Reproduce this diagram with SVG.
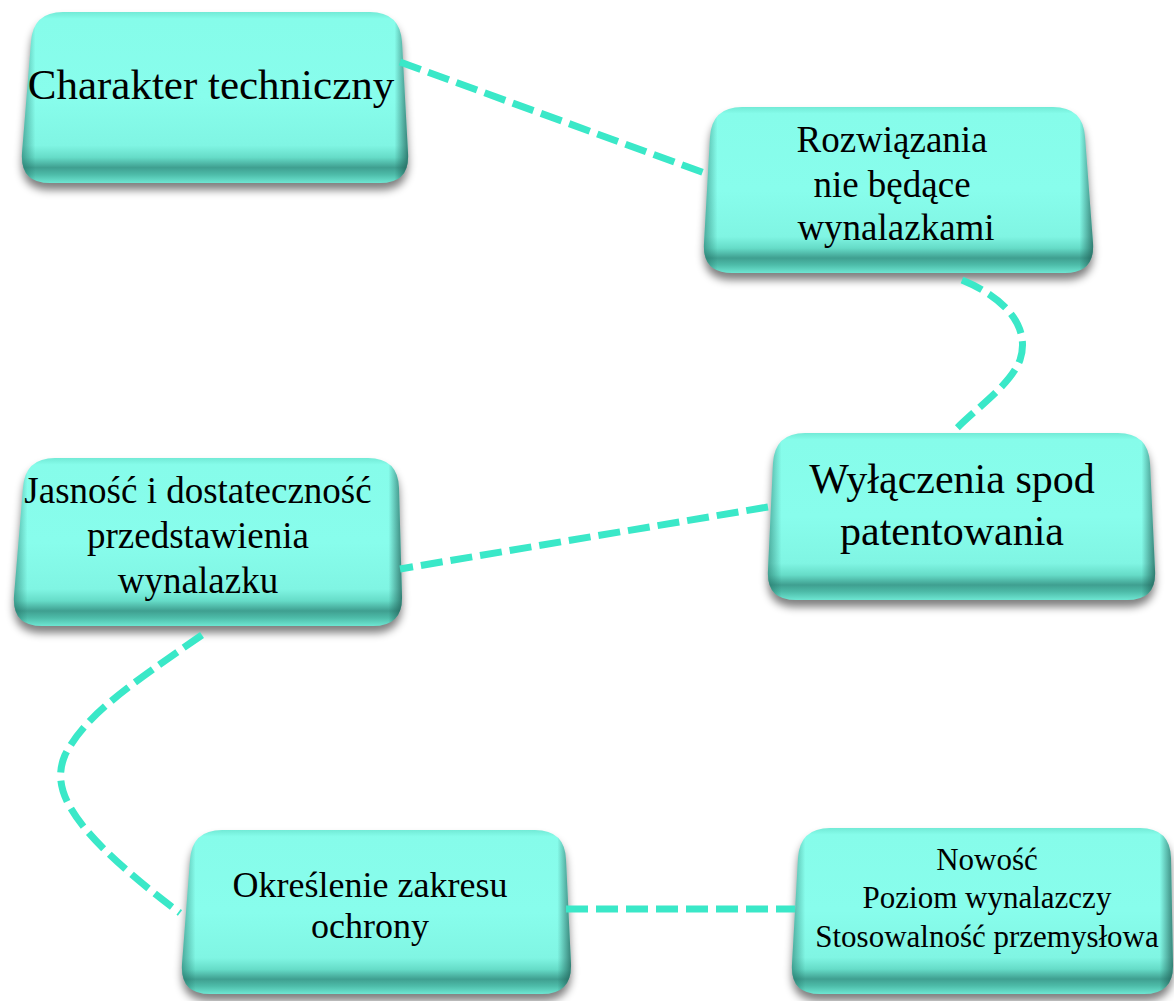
<svg xmlns="http://www.w3.org/2000/svg" xmlns:xlink="http://www.w3.org/1999/xlink" width="1174" height="1001" viewBox="0 0 1174 1001">
<defs>
<style>
.shadow{fill:#000;opacity:.5;filter:url(#blur)}
.face{fill:url(#gFace)}
.side{fill:url(#gSide)}
.lbl{font-family:"Liberation Serif","Times New Roman",serif;fill:#000;text-anchor:middle}
.con{fill:none;stroke:#3AE8C8;stroke-width:7;stroke-dasharray:22 8;stroke-linecap:butt}
</style>
<filter id="blur" x="-10%" y="-10%" width="120%" height="130%"><feGaussianBlur stdDeviation="4"/></filter>
<linearGradient id="gFace" x1="0" y1="0" x2="0" y2="1">
<stop offset="0" stop-color="#72EAD6"/>
<stop offset="0.04" stop-color="#86FCEA"/>
<stop offset="0.5" stop-color="#88FDEC"/>
<stop offset="0.78" stop-color="#80F5E3"/>
<stop offset="0.85" stop-color="#66DCC8"/>
<stop offset="0.91" stop-color="#3F9F90"/>
<stop offset="0.95" stop-color="#4DBBA8"/>
<stop offset="1" stop-color="#6EE6D2"/>
</linearGradient>
<linearGradient id="gSide" x1="0" y1="0" x2="1" y2="0">
<stop offset="0" stop-color="#1E6E62" stop-opacity=".55"/>
<stop offset="0.035" stop-color="#1E6E62" stop-opacity="0"/>
<stop offset="0.965" stop-color="#1E5E55" stop-opacity="0"/>
<stop offset="1" stop-color="#1E5E55" stop-opacity=".75"/>
</linearGradient>
<path id="s1" d="M63,12 H370 Q400,12 402,42 L408,153 Q410,183 380,183 H50 Q20,183 22,153 L31,42 Q33,12 63,12 Z"/>
<path id="s2" d="M742,107 H1053 Q1083,107 1085,137 L1093,243 Q1095,273 1065,273 H732 Q702,273 704,243 L710,137 Q712,107 742,107 Z"/>
<path id="s3" d="M805,433 H1118 Q1148,433 1150,463 L1155,570 Q1157,600 1127,600 H796 Q766,600 768,570 L773,463 Q775,433 805,433 Z"/>
<path id="s4" d="M55,458 H368 Q398,458 399,488 L402,596 Q403,626 373,626 H42 Q12,626 14,596 L23,488 Q25,458 55,458 Z"/>
<path id="s5" d="M222,830 H535 Q565,830 566,860 L571,964 Q572,994 542,994 H210 Q180,994 182,964 L190,860 Q192,830 222,830 Z"/>
<path id="s6" d="M830,828 H1140 Q1170,828 1171,858 L1173,964 Q1174,994 1144,994 H820 Q790,994 792,964 L798,858 Q800,828 830,828 Z"/>
</defs>
<rect width="1174" height="1001" fill="#fff"/>

<g id="node1">
<use href="#s1" class="shadow" transform="translate(0,7)"/>
<use href="#s1" class="face"/>
<use href="#s1" class="side"/>
<text class="lbl" x="211" y="99" font-size="43">Charakter techniczny</text>
</g>

<g id="node2">
<use href="#s2" class="shadow" transform="translate(0,7)"/>
<use href="#s2" class="face"/>
<use href="#s2" class="side"/>
<text class="lbl" font-size="37"><tspan x="892" y="152">Rozwiązania</tspan><tspan x="892" y="197">nie będące</tspan><tspan x="896" y="240">wynalazkami</tspan></text>
</g>

<g id="node3">
<use href="#s3" class="shadow" transform="translate(0,7)"/>
<use href="#s3" class="face"/>
<use href="#s3" class="side"/>
<text class="lbl" font-size="42"><tspan x="952" y="493">Wyłączenia spod</tspan><tspan x="952" y="545">patentowania</tspan></text>
</g>

<g id="node4">
<use href="#s4" class="shadow" transform="translate(0,7)"/>
<use href="#s4" class="face"/>
<use href="#s4" class="side"/>
<text class="lbl" font-size="37"><tspan x="198" y="503">Jasność i dostateczność</tspan><tspan x="198" y="548">przedstawienia</tspan><tspan x="198" y="593">wynalazku</tspan></text>
</g>

<g id="node5">
<use href="#s5" class="shadow" transform="translate(0,7)"/>
<use href="#s5" class="face"/>
<use href="#s5" class="side"/>
<text class="lbl" font-size="36"><tspan x="370" y="897">Określenie zakresu</tspan><tspan x="370" y="938">ochrony</tspan></text>
</g>

<g id="node6">
<use href="#s6" class="shadow" transform="translate(0,7)"/>
<use href="#s6" class="face"/>
<use href="#s6" class="side"/>
<text class="lbl" font-size="31"><tspan x="987" y="870">Nowość</tspan><tspan x="987" y="908">Poziom wynalazczy</tspan><tspan x="987" y="947">Stosowalność przemysłowa</tspan></text>
</g>

<g id="connectors">
<path class="con" d="M400,62 L710,175"/>
<path class="con" d="M962,280 C1010,300 1030,330 1020,360 C1010,385 980,405 955,430"/>
<path class="con" d="M768,507 L400,569"/>
<path class="con" d="M202,635 C130,685 85,715 65,755 C50,790 70,830 180,913"/>
<path class="con" d="M566,909 L795,909"/>
</g>
</svg>
